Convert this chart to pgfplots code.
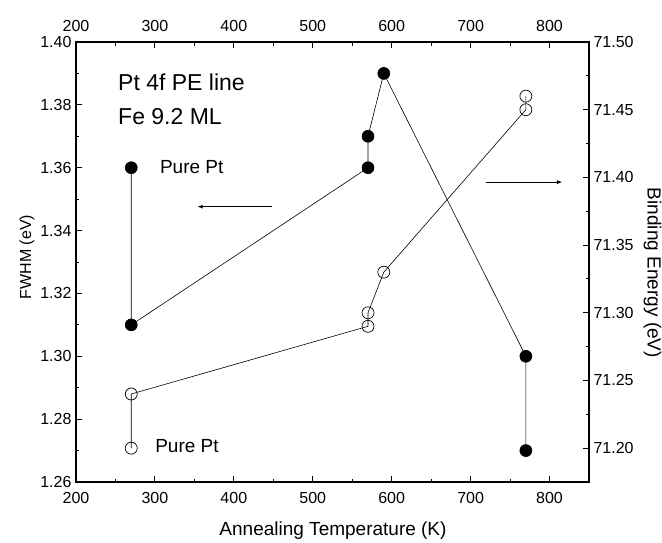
\documentclass[border=0pt]{standalone}
\usepackage{pgfplots}
\pgfplotsset{compat=1.18}
\usepackage{fontspec}
\setmainfont{Liberation Sans}
\begin{document}
\begin{tikzpicture}
\useasboundingbox (-76pt,-60pt) rectangle (586pt,482pt);
\pgfplotsset{
 every axis/.append style={
 scale only axis, width=513pt, height=440pt,
 at={(0,0)}, anchor=south west,
 xmin=200, xmax=850,
 xtick={200,300,...,800}, minor x tick num=1,
 tick align=inside,
 major tick length=6pt, minor tick length=3.5pt,
 axis line style={line width=1.1pt},
 every tick/.style={black, line width=0.9pt},
 tick label style={font=\fontsize{16}{18}\selectfont},
 /pgf/number format/assume math mode=true,
 },
}
% left axis: FWHM (filled circles)
\begin{axis}[
 ymin=1.26, ymax=1.40,
 ytick={1.26,1.28,...,1.40}, minor y tick num=1,
 ytick pos=left, xtick pos=both, xticklabel pos=lower,
 yticklabel style={xshift=-1pt, /pgf/number format/.cd, fixed, fixed zerofill, precision=2},
 xticklabel style={yshift=-7pt},
 xlabel={Annealing Temperature (K)},
 ylabel={FWHM (eV)},
 xlabel style={font=\fontsize{19}{22}\selectfont, at={(axis description cs:0.501,-0.1227)}, anchor=base},
 ylabel style={font=\fontsize{16}{19}\selectfont, at={(axis description cs:-0.0955,0.511)}, anchor=center},
 clip=false,
]
\addplot[black, line width=0.6pt, mark=*, mark size=6pt,
 mark options={fill=black, draw=black}] coordinates {
 (270,1.36) (270,1.31) (570,1.36) (570,1.37) (590,1.39) (770,1.30) (770,1.27)};
\node[anchor=base west, font=\fontsize{23}{26}\selectfont] at (axis cs:249,1.3847) {Pt 4f PE line};
\node[anchor=base west, font=\fontsize{23}{26}\selectfont] at (axis cs:249,1.3739) {Fe 9.2 ML};
\node[anchor=base west, font=\fontsize{19}{22}\selectfont] at (axis cs:302,1.3583) {Pure Pt};
\draw[-latex, line width=0.8pt] (axis cs:448,1.3476) -- (axis cs:354,1.3476);
\end{axis}
% right axis: binding energy (open circles)
\begin{axis}[
 ymin=71.175, ymax=71.50,
 ytick={71.20,71.25,...,71.50}, minor y tick num=1,
 axis y line*=right, axis x line*=top,
 axis line style={-},
 xticklabel pos=upper,
 xticklabel style={yshift=7pt},
 yticklabel style={xshift=1pt, /pgf/number format/.cd, fixed, fixed zerofill, precision=2},
 ylabel={Binding Energy (eV)},
 ylabel style={font=\fontsize{19}{22}\selectfont, at={(axis description cs:1.124,0.475)}, anchor=center, rotate=180},
 clip=false,
]
\addplot[black, line width=0.6pt, mark=o, mark size=6pt,
 mark options={fill=white, draw=black, line width=0.7pt}] coordinates {
 (270,71.20) (270,71.24) (570,71.29) (570,71.30) (590,71.33) (770,71.45) (770,71.46)};
\node[anchor=base west, font=\fontsize{19}{22}\selectfont] at (axis cs:296,71.197) {Pure Pt};
\draw[-latex, line width=0.8pt] (axis cs:719,71.3965) -- (axis cs:816,71.3965);
\end{axis}
\end{tikzpicture}
\end{document}
